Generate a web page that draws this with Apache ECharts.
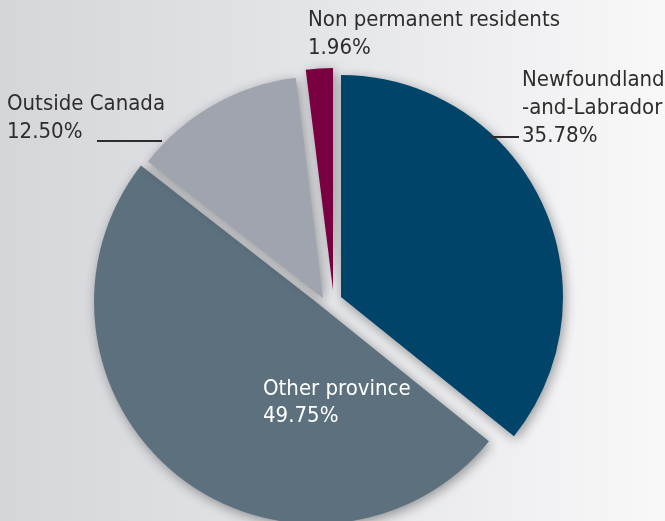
<!DOCTYPE html>
<html>
<head>
<meta charset="utf-8">
<script src="https://cdn.jsdelivr.net/npm/echarts@6/dist/echarts.min.js"></script>
<style>
  html, body { margin: 0; padding: 0; }
  body { background: linear-gradient(to right, #d5d6da 0%, #e3e4e7 45%, #f8f8f9 100%); }
  #cont { width: 665px; height: 521px; }
</style>
</head>
<body>
<div id="cont"></div>
<script>
// data
var categories = ['Newfoundland\n-and-Labrador', 'Other province', 'Outside Canada', 'Non permanent residents'];
var shares = [35.78, 49.75, 12.50, 1.96];
var colors = ['#00446a', '#5d707e', '#a0a4ae', '#7a0042'];

// each slice is pulled out on its own, so each gets its own centre
var sliceCenters = [[341, 297], [316, 302], [323, 298], [333, 290]];
var drawOrder = [1, 2, 3, 0];

// label blocks (left, top) and leader lines
var labelSpots = [
  { x: 522, y: 66, lh: 28.3, color: '#2d2d2d', line: [490, 137, 519, 137] },
  { x: 263, y: 375, lh: 27.7, color: '#ffffff' },
  { x: 7, y: 90.5, lh: 28, color: '#2d2d2d', line: [97, 141, 162, 141] },
  { x: 308, y: 6, lh: 28.5, color: '#2d2d2d' }
];

var font = '"DejaVu Sans Condensed", "DejaVu Sans", sans-serif';

function sliceSeries(idx) {
  return {
    type: 'pie',
    center: sliceCenters[idx],
    radius: 222,
    startAngle: 90,
    silent: true,
    label: { show: false },
    labelLine: { show: false },
    data: categories.map(function (c, i) {
      return {
        name: c,
        value: shares[i],
        itemStyle: i === idx
          ? { color: colors[i], shadowBlur: 12, shadowOffsetX: 2, shadowOffsetY: 3, shadowColor: 'rgba(0,0,0,0.38)' }
          : { color: 'rgba(0,0,0,0)' }
      };
    })
  };
}

var graphics = [];
categories.forEach(function (c, i) {
  var s = labelSpots[i];
  graphics.push({
    type: 'text',
    left: s.x,
    top: s.y,
    silent: true,
    z: 100,
    style: {
      text: c + '\n' + shares[i].toFixed(2) + '%',
      font: '22px ' + font,
      lineHeight: s.lh,
      fill: s.color,
      align: 'left'
    }
  });
  if (s.line) {
    graphics.push({
      type: 'line',
      silent: true,
      z: 100,
      shape: { x1: s.line[0], y1: s.line[1], x2: s.line[2], y2: s.line[3] },
      style: { stroke: '#2d2d2d', lineWidth: 2 }
    });
  }
});

var myChart = echarts.init(document.getElementById('cont'));
var option = {
  animation: false,
  graphic: graphics,
  series: drawOrder.map(sliceSeries)
};
myChart.setOption(option);
</script>
</body>
</html>
